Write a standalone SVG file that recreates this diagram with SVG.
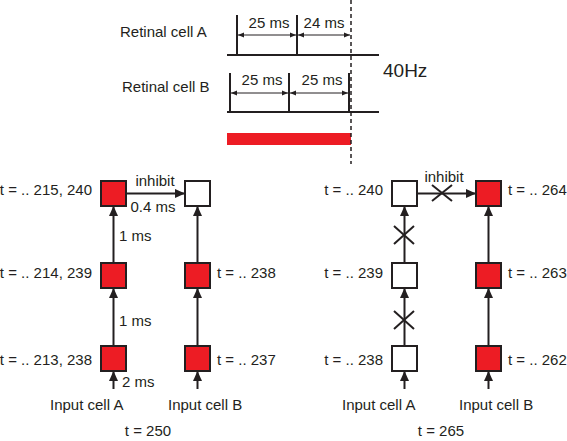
<svg xmlns="http://www.w3.org/2000/svg" width="567" height="441" viewBox="0 0 567 441">
<style>
text{font-family:"Liberation Sans",Arial,sans-serif;font-size:15px;fill:#231f20}
.box{stroke:#231f20;stroke-width:2}
.red{fill:#ed1c24}
.white{fill:#fff}
.ln{stroke:#231f20;stroke-width:2;fill:none}
.thin{stroke:#231f20;stroke-width:1;fill:none}
.tick{stroke:#231f20;stroke-width:2}
</style>
<defs>
<marker id="ah" markerUnits="userSpaceOnUse" markerWidth="10" markerHeight="10" viewBox="0 0 10 10" refX="10" refY="5" orient="auto">
<path d="M0,0.5 L10,5 L0,9.5 Z" fill="#231f20"/>
</marker>
<marker id="sa" markerUnits="userSpaceOnUse" markerWidth="6" markerHeight="6" viewBox="0 0 6 6" refX="6" refY="3" orient="auto-start-reverse">
<path d="M0,0.5 L6,3 L0,5.5 Z" fill="#231f20"/>
</marker>
</defs>

<g id="timeline">
<text x="120" y="37">Retinal cell A</text>
<line class="ln" x1="227" y1="55" x2="379" y2="55"/>
<line class="tick" x1="237" y1="15" x2="237" y2="55"/>
<line class="tick" x1="297" y1="15" x2="297" y2="55"/>
<line class="thin" x1="238" y1="35" x2="296" y2="35" marker-start="url(#sa)" marker-end="url(#sa)"/>
<line class="thin" x1="298" y1="35" x2="350" y2="35" marker-start="url(#sa)" marker-end="url(#sa)"/>
<text x="269" y="28" text-anchor="middle">25 ms</text>
<text x="324" y="28" text-anchor="middle">24 ms</text>
<text x="383" y="77" style="font-size:19px">40Hz</text>
<text x="122" y="92">Retinal cell B</text>
<line class="ln" x1="227" y1="112" x2="379" y2="112"/>
<line class="tick" x1="230" y1="73" x2="230" y2="112"/>
<line class="tick" x1="289" y1="73" x2="289" y2="112"/>
<line class="tick" x1="349" y1="73" x2="349" y2="112"/>
<line class="thin" x1="231" y1="93" x2="288" y2="93" marker-start="url(#sa)" marker-end="url(#sa)"/>
<line class="thin" x1="290" y1="93" x2="348" y2="93" marker-start="url(#sa)" marker-end="url(#sa)"/>
<text x="262" y="85" text-anchor="middle">25 ms</text>
<text x="322" y="85" text-anchor="middle">25 ms</text>
<rect class="red" x="227" y="133" width="124" height="12"/>
<line x1="351" y1="0" x2="351" y2="164" stroke="#231f20" stroke-width="1.5" stroke-dasharray="4,3"/>
</g>

<g id="connectors">
<line class="ln" x1="126" y1="193.5" x2="185" y2="193.5" marker-end="url(#ah)"/>
<line class="ln" x1="113.5" y1="263" x2="113.5" y2="206" marker-end="url(#ah)"/>
<line class="ln" x1="113.5" y1="346" x2="113.5" y2="288" marker-end="url(#ah)"/>
<line class="ln" x1="113.5" y1="389" x2="113.5" y2="371" marker-end="url(#ah)"/>
<line class="ln" x1="197.5" y1="263" x2="197.5" y2="206" marker-end="url(#ah)"/>
<line class="ln" x1="197.5" y1="346" x2="197.5" y2="288" marker-end="url(#ah)"/>
<line class="ln" x1="197.5" y1="389" x2="197.5" y2="371" marker-end="url(#ah)"/>
<line class="ln" x1="417" y1="193.5" x2="476" y2="193.5" marker-end="url(#ah)"/>
<line class="ln" x1="404.5" y1="263" x2="404.5" y2="206" marker-end="url(#ah)"/>
<line class="ln" x1="404.5" y1="346" x2="404.5" y2="288" marker-end="url(#ah)"/>
<line class="ln" x1="404.5" y1="389" x2="404.5" y2="371" marker-end="url(#ah)"/>
<line class="ln" x1="488.5" y1="263" x2="488.5" y2="206" marker-end="url(#ah)"/>
<line class="ln" x1="488.5" y1="346" x2="488.5" y2="288" marker-end="url(#ah)"/>
<line class="ln" x1="488.5" y1="389" x2="488.5" y2="371" marker-end="url(#ah)"/>
<path class="ln" d="M432,185 L452,201 M432,201 L452,185"/>
<path class="ln" d="M394,226 L414,244 M394,244 L414,226"/>
<path class="ln" d="M394,311 L414,329 M394,329 L414,311"/>
<text x="155" y="186" text-anchor="middle">inhibit</text>
<text x="153" y="212" text-anchor="middle">0.4 ms</text>
<text x="119" y="241">1 ms</text>
<text x="119" y="326">1 ms</text>
<text x="122" y="387">2 ms</text>
<text x="444" y="182" text-anchor="middle">inhibit</text>
</g>

<g id="L-A3"><rect class="box red" x="101" y="181" width="25" height="25"/><text x="92" y="195" text-anchor="end">t = .. 215, 240</text></g>
<g id="L-A2"><rect class="box red" x="101" y="263" width="25" height="25"/><text x="92" y="278" text-anchor="end">t = .. 214, 239</text></g>
<g id="L-A1"><rect class="box red" x="101" y="346" width="25" height="25"/><text x="92" y="365" text-anchor="end">t = .. 213, 238</text></g>
<g id="L-B3"><rect class="box white" x="185" y="181" width="25" height="25"/></g>
<g id="L-B2"><rect class="box red" x="185" y="263" width="25" height="25"/><text x="217" y="278">t = .. 238</text></g>
<g id="L-B1"><rect class="box red" x="185" y="346" width="25" height="25"/><text x="217" y="365">t = .. 237</text></g>
<g id="L-labels">
<text x="50" y="410">Input cell A</text>
<text x="168" y="410">Input cell B</text>
<text x="148" y="436" text-anchor="middle">t = 250</text>
</g>

<g id="R-A3"><rect class="box white" x="392" y="181" width="25" height="25"/><text x="383" y="195" text-anchor="end">t = .. 240</text></g>
<g id="R-A2"><rect class="box white" x="392" y="263" width="25" height="25"/><text x="383" y="278" text-anchor="end">t = .. 239</text></g>
<g id="R-A1"><rect class="box white" x="392" y="346" width="25" height="25"/><text x="383" y="365" text-anchor="end">t = .. 238</text></g>
<g id="R-B3"><rect class="box red" x="476" y="181" width="25" height="25"/><text x="508" y="195">t = .. 264</text></g>
<g id="R-B2"><rect class="box red" x="476" y="263" width="25" height="25"/><text x="508" y="278">t = .. 263</text></g>
<g id="R-B1"><rect class="box red" x="476" y="346" width="25" height="25"/><text x="508" y="365">t = .. 262</text></g>
<g id="R-labels">
<text x="342" y="410">Input cell A</text>
<text x="459" y="410">Input cell B</text>
<text x="441" y="436" text-anchor="middle">t = 265</text>
</g>
</svg>
